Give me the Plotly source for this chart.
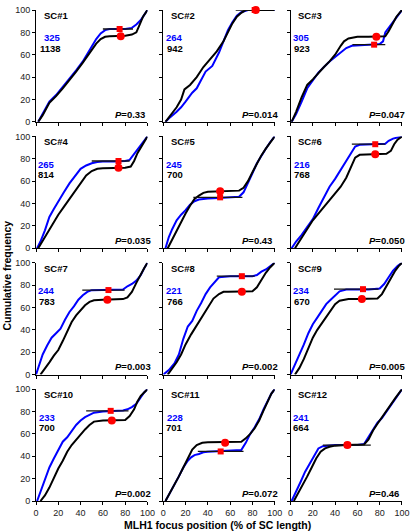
import plotly.graph_objects as go
from plotly.subplots import make_subplots

# ---------------- data ----------------
panel_names = ["SC#1", "SC#2", "SC#3", "SC#4", "SC#5", "SC#6",
               "SC#7", "SC#8", "SC#9", "SC#10", "SC#11", "SC#12"]
n_blue = ["325", "264", "305", "265", "245", "216", "244", "221", "234", "233", "228", "241"]
n_black = ["1138", "942", "923", "814", "700", "768", "783", "766", "670", "700", "701", "664"]
p_values = ["0.33", "0.014", "0.047", "0.035", "0.43", "0.050",
            "0.003", "0.002", "0.005", "0.002", "0.072", "0.46"]

circle_x = [76, 83, 77, 74, 51, 76, 64, 70.5, 64, 68, 55.5, 51]
circle_y = [76.5, 100, 76, 72, 51, 84, 67, 74, 67.6, 72, 52, 50]
square_x = [75, 82, 75, 74, 51, 76, 65, 70.5, 65, 67, 51.5, 51]
square_y = [83, 100, 69, 78, 45.5, 93, 75.6, 88, 76.4, 80.6, 44.3, 50]
err_lo = [60, 65, 55.5, 50, 27, 55, 41.5, 48, 39, 45, 31, 29]
err_hi = [87, 83, 85, 84, 71, 85, 79.5, 82, 79, 83, 72, 72]

sc1_blue_x = [2, 6, 12, 18, 24, 30, 36, 42, 48, 54, 58, 62, 66, 72, 80, 86, 90, 94, 97, 100]
sc1_blue_y = [0, 7, 18, 24, 31, 38, 46, 54, 64, 74, 79, 82, 83, 83, 83, 84, 87, 91, 95, 100]
sc1_black_x = [2, 6, 12, 18, 24, 30, 36, 42, 48, 54, 58, 62, 66, 72, 80, 86, 90, 93, 96, 100]
sc1_black_y = [0, 6, 17, 23, 30, 37, 45, 53, 61, 70, 74, 76, 76.5, 76.5, 77, 78, 80, 87, 94, 100]

sc2_blue_x = [2, 6, 12, 16, 20, 26, 30, 34, 38, 44, 50, 54, 58, 62, 66, 70, 76, 100]
sc2_blue_y = [0, 4, 9, 13, 18, 26, 30, 38, 45, 50, 62, 72, 82, 89, 95, 98, 100, 100]
sc2_black_x = [2, 6, 12, 16, 19, 24, 30, 36, 42, 48, 54, 58, 62, 66, 70, 74, 100]
sc2_black_y = [0, 5, 13, 20, 29, 33, 40, 49, 56, 63, 72, 80, 88, 94, 97.5, 100, 100]

sc3_blue_x = [1, 5, 10, 15, 20, 25, 30, 35, 40, 45, 50, 55, 60, 70, 80, 83, 85, 88, 92, 96, 100]
sc3_blue_y = [0, 7, 18, 30, 37, 44, 49, 54, 58, 62, 66, 68, 68.5, 69, 69.5, 72, 80, 84, 89, 95, 100]
sc3_black_x = [1, 5, 10, 15, 20, 25, 30, 35, 40, 45, 48, 52, 56, 60, 70, 80, 85, 88, 91, 95, 100]
sc3_black_y = [0, 9, 22, 33, 38, 44, 49, 54, 60, 68, 72, 74.5, 75.5, 76, 76, 76, 76.5, 81, 87, 94, 100]

sc4_blue_x = [1, 4, 8, 12, 16, 20, 25, 30, 35, 40, 45, 50, 55, 60, 70, 80, 84, 88, 92, 96, 100]
sc4_blue_y = [0, 6, 16, 28, 35, 42, 50, 58, 65, 71, 74, 76, 77, 77.5, 77.5, 78, 79, 84, 89, 95, 100]
sc4_black_x = [2, 5, 10, 15, 20, 25, 30, 35, 40, 45, 50, 55, 60, 70, 80, 85, 88, 91, 94, 97, 100]
sc4_black_y = [0, 5, 13, 22, 30, 37, 44, 52, 59, 65, 69, 71, 71.5, 71.5, 72, 73, 78, 85, 90, 95, 100]

sc5_blue_x = [2, 5, 8, 12, 16, 20, 24, 28, 32, 36, 40, 50, 60, 68, 72, 76, 80, 84, 88, 92, 96, 100]
sc5_blue_y = [0, 10, 17, 25, 30, 34, 39, 42, 43.5, 44, 44.5, 45, 45.5, 46, 50, 58, 67, 76, 83, 89, 95, 100]
sc5_black_x = [4, 8, 12, 16, 20, 24, 28, 32, 36, 40, 50, 60, 68, 72, 76, 80, 84, 88, 92, 96, 100]
sc5_black_y = [0, 8, 16, 24, 31, 38, 44, 47, 49.5, 50.5, 51, 51, 51.5, 54, 60, 68, 76, 83, 89, 95, 100]

sc6_blue_x = [1, 5, 10, 15, 20, 25, 30, 35, 40, 45, 50, 55, 58, 62, 70, 80, 85, 88, 92, 96, 100]
sc6_blue_y = [0, 6, 12, 19, 26, 36, 45, 55, 62, 70, 78, 86, 91, 92.5, 93, 93, 93.5, 96, 98, 99, 100]
sc6_black_x = [4, 8, 12, 16, 20, 25, 30, 35, 40, 45, 50, 55, 58, 62, 70, 80, 86, 90, 93, 96, 100]
sc6_black_y = [0, 6, 12, 19, 25, 31, 37, 42, 49, 55, 63, 75, 81, 83.5, 84, 84, 84.5, 87, 93, 97, 100]

sc7_blue_x = [0, 3, 6, 10, 14, 18, 22, 26, 30, 34, 38, 42, 46, 50, 60, 70, 78, 82, 86, 90, 94, 97, 100]
sc7_blue_y = [0, 10, 18, 26, 33, 37, 41, 49, 56, 61, 67, 71, 74, 75.5, 75.5, 75.5, 76, 79, 81, 84, 89, 95, 100]
sc7_black_x = [4, 8, 12, 16, 20, 24, 28, 32, 36, 40, 44, 48, 52, 60, 70, 78, 82, 86, 90, 94, 97, 100]
sc7_black_y = [0, 5, 11, 17, 22, 30, 38, 47, 53, 58, 62, 65, 66.5, 67, 67, 67.5, 69, 74, 82, 90, 95, 100]

sc8_blue_x = [0, 5, 10, 14, 18, 22, 26, 30, 34, 38, 42, 46, 50, 60, 70, 80, 84, 88, 92, 96, 100]
sc8_blue_y = [0, 4, 10, 18, 32, 43, 48, 57, 64, 72, 78, 83, 87, 88, 88, 88, 89, 92, 94, 97, 100]
sc8_black_x = [4, 8, 12, 16, 20, 25, 30, 35, 40, 45, 50, 54, 58, 65, 75, 80, 84, 88, 92, 96, 100]
sc8_black_y = [0, 5, 11, 18, 27, 36, 44, 52, 61, 68, 72, 74, 74, 74, 74, 74.5, 78, 85, 91, 96, 100]

sc9_blue_x = [0, 4, 8, 12, 16, 20, 24, 28, 32, 36, 40, 44, 50, 60, 70, 80, 84, 88, 92, 96, 100]
sc9_blue_y = [0, 9, 17, 27, 37, 45, 51, 57, 63, 67, 71, 74.5, 76, 76, 76, 77, 81, 87, 93, 97, 100]
sc9_black_x = [4, 8, 12, 16, 20, 24, 28, 32, 36, 40, 44, 48, 52, 60, 70, 78, 82, 86, 90, 94, 97, 100]
sc9_black_y = [0, 6, 14, 24, 33, 40, 46, 52, 58, 63, 66, 67, 67.5, 67.5, 67.5, 68, 72, 79, 87, 93, 97, 100]

sc10_blue_x = [1, 4, 8, 12, 16, 20, 24, 28, 32, 36, 40, 44, 48, 52, 60, 70, 78, 82, 86, 90, 94, 97, 100]
sc10_blue_y = [0, 8, 20, 30, 38, 46, 53, 57, 63, 68, 72, 75, 77, 79, 80, 80.5, 81, 82, 84, 87, 93, 97, 100]
sc10_black_x = [4, 8, 12, 16, 20, 24, 28, 32, 36, 40, 44, 48, 52, 60, 70, 80, 84, 88, 91, 94, 97, 100]
sc10_black_y = [0, 5, 12, 21, 29, 36, 44, 50, 55, 59, 64, 68, 71, 72, 72, 72.5, 76, 82, 89, 94, 97, 100]

sc11_blue_x = [2, 6, 10, 14, 18, 22, 25, 28, 32, 36, 40, 50, 60, 70, 74, 78, 82, 86, 90, 94, 97, 100]
sc11_blue_y = [0, 7, 15, 22, 30, 36, 39, 41, 42, 43.5, 44, 44.5, 45, 45.5, 52, 60, 66, 73, 82, 90, 96, 100]
sc11_black_x = [2, 6, 10, 14, 18, 22, 26, 30, 35, 40, 50, 60, 70, 74, 78, 82, 86, 90, 94, 97, 100]
sc11_black_y = [0, 7, 15, 22, 30, 38, 46, 50, 52, 52.5, 52.5, 52.5, 53, 56, 60, 65, 72, 81, 90, 96, 100]

sc12_blue_x = [1, 5, 9, 13, 17, 21, 25, 29, 33, 40, 50, 60, 66, 70, 74, 78, 82, 86, 90, 94, 97, 100]
sc12_blue_y = [0, 8, 17, 26, 33, 41, 47, 49, 49.5, 50, 50, 50, 51, 57, 64, 70, 74, 80, 86, 92, 96, 100]
sc12_black_x = [3, 7, 11, 15, 19, 23, 27, 31, 35, 40, 50, 60, 66, 70, 74, 78, 82, 86, 90, 94, 97, 100]
sc12_black_y = [0, 7, 15, 22, 30, 38, 44, 47, 48.5, 49.5, 50, 50, 50.5, 55, 63, 69, 75, 80, 86, 92, 96, 100]

blue_curves = [(sc1_blue_x, sc1_blue_y), (sc2_blue_x, sc2_blue_y), (sc3_blue_x, sc3_blue_y),
               (sc4_blue_x, sc4_blue_y), (sc5_blue_x, sc5_blue_y), (sc6_blue_x, sc6_blue_y),
               (sc7_blue_x, sc7_blue_y), (sc8_blue_x, sc8_blue_y), (sc9_blue_x, sc9_blue_y),
               (sc10_blue_x, sc10_blue_y), (sc11_blue_x, sc11_blue_y), (sc12_blue_x, sc12_blue_y)]
black_curves = [(sc1_black_x, sc1_black_y), (sc2_black_x, sc2_black_y), (sc3_black_x, sc3_black_y),
                (sc4_black_x, sc4_black_y), (sc5_black_x, sc5_black_y), (sc6_black_x, sc6_black_y),
                (sc7_black_x, sc7_black_y), (sc8_black_x, sc8_black_y), (sc9_black_x, sc9_black_y),
                (sc10_black_x, sc10_black_y), (sc11_black_x, sc11_black_y), (sc12_black_x, sc12_black_y)]

tick_vals = [0, 20, 40, 60, 80, 100]
tick_text = ["0", "20", "40", "60", "80", "100"]

# ---------------- figure ----------------
FONT = "Liberation Sans, Arial, sans-serif"
BLUE = "#0000ff"
RED = "#ff0000"

fig = make_subplots(rows=4, cols=3, horizontal_spacing=0.0431, vertical_spacing=0.0296)

for i in range(12):
    r, c = i // 3 + 1, i % 3 + 1
    bx, by = blue_curves[i]
    kx, ky = black_curves[i]
    fig.add_trace(go.Scatter(x=bx, y=by, mode="lines", line=dict(color=BLUE, width=2),
                             showlegend=False, hoverinfo="skip"), row=r, col=c)
    fig.add_trace(go.Scatter(x=kx, y=ky, mode="lines", line=dict(color="black", width=2),
                             showlegend=False, hoverinfo="skip"), row=r, col=c)
    # square (blue median) with horizontal error bar
    fig.add_trace(go.Scatter(
        x=[square_x[i]], y=[square_y[i]], mode="markers",
        marker=dict(symbol="square", size=6, color=RED),
        error_x=dict(type="data", symmetric=False,
                     array=[err_hi[i] - square_x[i]], arrayminus=[square_x[i] - err_lo[i]],
                     color="#111111", thickness=1.3, width=0),
        showlegend=False, cliponaxis=False, hoverinfo="skip"), row=r, col=c)
    # circle (black median)
    fig.add_trace(go.Scatter(
        x=[circle_x[i]], y=[circle_y[i]], mode="markers",
        marker=dict(symbol="circle", size=8, color=RED),
        showlegend=False, cliponaxis=False, hoverinfo="skip"), row=r, col=c)

    fig.update_xaxes(range=[0, 100], tickvals=tick_vals, ticktext=tick_text,
                     showticklabels=(r == 4), ticks="outside", ticklen=3, tickwidth=1,
                     tickcolor="black", showline=True, linecolor="black", linewidth=1,
                     showgrid=False, zeroline=False, fixedrange=True,
                     tickfont=dict(family=FONT, size=9, color="#222222"), row=r, col=c)
    fig.update_yaxes(range=[0, 100], tickvals=tick_vals, ticktext=tick_text,
                     showticklabels=(c == 1), ticks="outside", ticklen=3, tickwidth=1,
                     tickcolor="black", showline=True, linecolor="black", linewidth=1,
                     showgrid=False, zeroline=False, fixedrange=True,
                     tickfont=dict(family=FONT, size=9, color="#222222"), row=r, col=c)

    # texts
    fig.add_annotation(text="<b>" + panel_names[i] + "</b>", xref="x domain", yref="y domain",
                       x=0.05, y=0.95, xanchor="left", yanchor="middle", showarrow=False,
                       font=dict(family=FONT, size=9.5, color="black"), row=r, col=c)
    nmax = max(len(n_blue[i]), len(n_black[i]))
    xr = 0.05 + nmax * 0.047
    fig.add_annotation(text="<b>" + n_blue[i] + "</b>", xref="x domain", yref="y domain",
                       x=xr, y=0.75, xanchor="right", yanchor="middle", showarrow=False,
                       font=dict(family=FONT, size=9.5, color=BLUE), row=r, col=c)
    fig.add_annotation(text="<b>" + n_black[i] + "</b>", xref="x domain", yref="y domain",
                       x=xr, y=0.655, xanchor="right", yanchor="middle", showarrow=False,
                       font=dict(family=FONT, size=9.5, color="black"), row=r, col=c)
    fig.add_annotation(text="<b><i>P</i>=" + p_values[i] + "</b>", xref="x domain", yref="y domain",
                       x=0.69, y=0.07, xanchor="left", yanchor="middle", showarrow=False,
                       font=dict(family=FONT, size=9.5, color="black"), row=r, col=c)

fig.add_annotation(text="<b>Cumulative frequency</b>", xref="paper", yref="paper",
                   x=-0.078, y=0.46, textangle=-90, showarrow=False,
                   xanchor="center", yanchor="middle",
                   font=dict(family=FONT, size=10.5, color="black"))
fig.add_annotation(text="<b>MLH1 focus position (% of SC length)</b>", xref="paper", yref="paper",
                   x=0.495, y=-0.048, showarrow=False, xanchor="center", yanchor="middle",
                   font=dict(family=FONT, size=10.5, color="black"))

fig.update_layout(width=415, height=532, margin=dict(l=36, r=8, t=5, b=31),
                  paper_bgcolor="white", plot_bgcolor="white", showlegend=False)

fig.write_html("out.html", config={"displayModeBar": False},
               post_script="document.body.style.margin='0';document.body.style.overflow='hidden';")
